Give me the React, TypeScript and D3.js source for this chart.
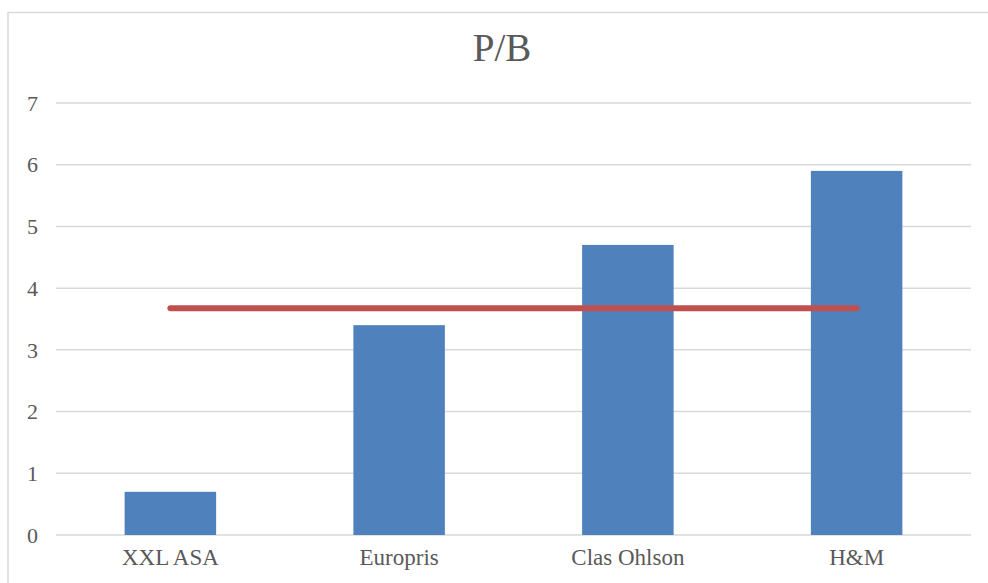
import React from "react";
import * as d3 from "d3";

const categories = ["XXL ASA", "Europris", "Clas Ohlson", "H&M"];
const pbValues = [0.7, 3.4, 4.7, 5.9];
const averageValue = 3.675;
const yTicks = [0, 1, 2, 3, 4, 5, 6, 7];
const title = "P/B";

const W = 988;
const H = 583;
const plotLeft = 56;
const plotRight = 971;
const plotTop = 103;
const plotBottom = 535;

export default function App() {
  const x = d3
    .scaleBand<string>()
    .domain(categories)
    .range([plotLeft, plotRight])
    .paddingInner(0.6)
    .paddingOuter(0.3);
  const y = d3.scaleLinear().domain([0, 7]).range([plotBottom, plotTop]);
  const font = "'Liberation Serif', 'Times New Roman', serif";
  const first = categories[0];
  const last = categories[categories.length - 1];
  const lineGen = d3
    .line<[number, number]>()
    .x((d) => d[0])
    .y((d) => d[1]);
  const avgPts: [number, number][] = [
    [x(first)! + x.bandwidth() / 2, y(averageValue)],
    [x(last)! + x.bandwidth() / 2, y(averageValue)],
  ];
  return (
    <svg
      width={W}
      height={H}
      style={{ position: "absolute", left: 0, top: 0, background: "#fff" }}
      fontFamily={font}
    >
      <rect x={8} y={12.5} width={W + 20} height={H + 20} fill="#fff" stroke="#d9d9d9" strokeWidth={1.5} />
      <text x={502} y={61} textAnchor="middle" fontSize={39} fill="#595959">
        {title}
      </text>
      {yTicks.map((t) => (
        <g key={t}>
          <line x1={plotLeft} x2={plotRight} y1={y(t)} y2={y(t)} stroke="#d9d9d9" strokeWidth={1.5} />
          <text x={38} y={y(t)} dy="0.35em" textAnchor="end" fontSize={22} fill="#595959">
            {t}
          </text>
        </g>
      ))}
      {categories.map((c, i) => (
        <rect
          key={c}
          x={x(c)}
          y={y(pbValues[i])}
          width={x.bandwidth()}
          height={y(0) - y(pbValues[i])}
          fill="#4f81bd"
        />
      ))}
      <path d={lineGen(avgPts)!} stroke="#c0504d" strokeWidth={6} strokeLinecap="round" fill="none" />
      {categories.map((c) => (
        <text
          key={c}
          x={x(c)! + x.bandwidth() / 2}
          y={565}
          textAnchor="middle"
          fontSize={23}
          fill="#595959"
        >
          {c}
        </text>
      ))}
    </svg>
  );
}
